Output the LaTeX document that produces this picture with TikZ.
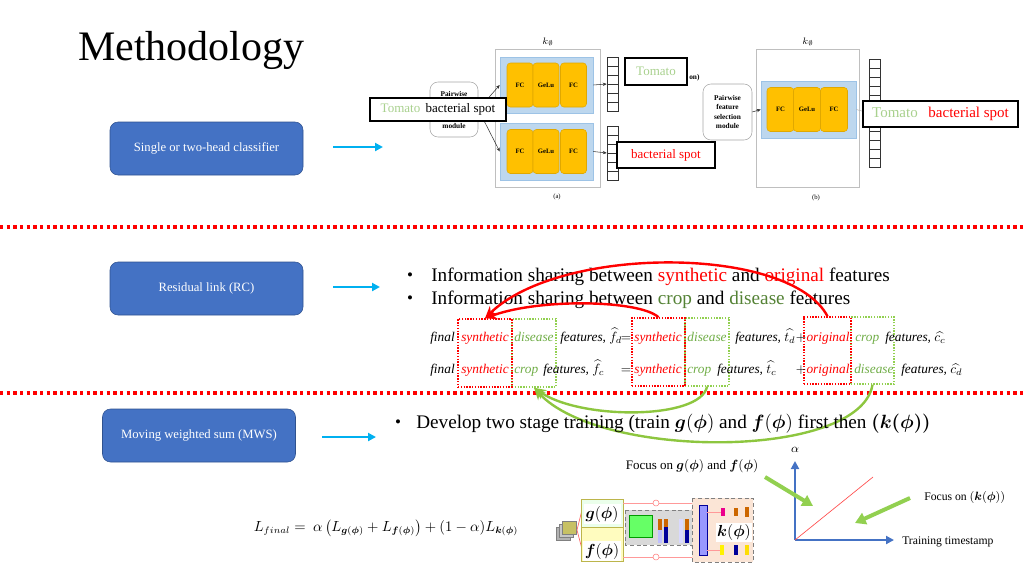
\documentclass[tikz,border=0pt]{standalone}
\usepackage{amsmath}
\usepackage{amssymb}
\usepackage{bm}
\usepackage{fontspec}
\setmainfont{Liberation Serif}
\usetikzlibrary{arrows.meta}

\definecolor{slideblue}{HTML}{4472C4}
\definecolor{slideblueline}{HTML}{2F528F}
\definecolor{arrowcyan}{HTML}{00B0F0}
\definecolor{tomatogreen}{HTML}{A9D18E}
\definecolor{cropgreen}{HTML}{548235}
\definecolor{eqgreen}{HTML}{70AD47}
\definecolor{boxgreen}{HTML}{92D050}
\definecolor{curvegreen}{HTML}{8DC63F}
\definecolor{fcorange}{HTML}{FFC000}
\definecolor{fcborder}{HTML}{E0A800}
\definecolor{panelblue}{HTML}{BDD7EE}
\definecolor{panelline}{HTML}{9DC3E6}
\definecolor{peach}{HTML}{FBE5D6}

\begin{document}
\begin{tikzpicture}[x=0.75pt,y=0.75pt,yscale=-1,xscale=1,
  bluebox/.style={draw=slideblueline, fill=slideblue, rounded corners=6pt, text=white, font=\fontsize{9.5}{11}\selectfont, minimum width=144.75pt, minimum height=39.75pt},
  cyanarrow/.style={draw=arrowcyan, line width=2pt, -{Triangle[length=6pt,width=6pt]}},
  sepline/.style={draw=red, line width=3pt, dash pattern=on 2.5pt off 2.5pt},
  fcbox/.style={draw=fcborder, fill=fcorange, rounded corners=2.5pt, minimum width=19.5pt, minimum height=33pt, inner sep=0pt, font=\fontsize{5}{6}\selectfont\bfseries},
  panel/.style={draw=panelline, fill=panelblue, inner sep=0pt},
  module/.style={draw=gray!70, fill=white, rounded corners=6pt, align=center, inner sep=0pt, font=\fontsize{5.5}{7}\selectfont\bfseries},
  tagbox/.style={draw=black, line width=1.5pt, fill=white, inner sep=0pt},
  vec/.style={draw=black!80, line width=0.4pt, minimum width=8.25pt, inner sep=0pt},
  thin arrow/.style={draw=black!80, line width=0.4pt, -{Stealth[length=3pt,width=2.5pt]}},
  redbox/.style={draw=red, densely dotted, line width=1.1pt, inner sep=0pt},
  greenbox/.style={draw=boxgreen, densely dotted, line width=1.1pt, inner sep=0pt},
  redcurve/.style={draw=red, line width=1.8pt, -{Stealth[length=9pt,width=8pt]}},
  greencurve/.style={draw=curvegreen, line width=1.8pt, -{Stealth[length=9pt,width=8pt]}},
  eqtext/.style={font=\fontsize{10}{12}\selectfont\itshape, inner sep=0pt},
  bullettext/.style={font=\fontsize{14.4}{17}\selectfont, inner sep=0pt, anchor=west},
  smalltext/.style={font=\fontsize{8.75}{10}\selectfont, inner sep=0pt},
  axis/.style={draw=slideblue, line width=2.2pt, -{Triangle[length=6pt,width=6pt]}},
  focusarrow/.style={draw=boxgreen, line width=3pt, -{Triangle[length=8pt,width=9pt]}}
]
\useasboundingbox (0,0) rectangle (1024,576);

% Title
\draw (78,60) node [anchor=base west][inner sep=0pt] (title) {\fontsize{31.5}{36}\selectfont Methodology};

% Left boxes
\node [bluebox] (clsbox) at (206.5,148.5) {Single or two-head classifier};
\node [bluebox] (rcbox) at (206.5,288.5) {Residual link (RC)};
\node [bluebox] (mwsbox) at (199,435.5) {Moving weighted sum (MWS)};

\coordinate (a1s) at (333,147);
\coordinate (a1e) at (383,147);
\coordinate (a2s) at (333,287);
\coordinate (a2e) at (380,287);
\coordinate (a3s) at (322,437);
\coordinate (a3e) at (376,437);
\draw [cyanarrow] (a1s) -- (a1e);
\draw [cyanarrow] (a2s) -- (a2e);
\draw [cyanarrow] (a3s) -- (a3e);

% Separators
\draw [sepline] (0,227) -- (1024,227);
\draw [sepline] (0,393) -- (1024,393);

% Figure (a)
\draw [draw=gray!50] (495,49) rectangle (600,187);
\draw (548,42) node [inner sep=0pt] (ka) {\fontsize{7}{8}\selectfont $k_{\emptyset}$};
\node [panel, minimum width=69.75pt, minimum height=42pt] (pana1) at (546.5,85) {};
\node [panel, minimum width=69.75pt, minimum height=42.75pt] (pana2) at (546.5,151.5) {};
\node [fcbox] (fca1) at (520,85) {FC};
\node [fcbox] (gla1) at (546,85) {GeLu};
\node [fcbox] (fcb1) at (573.5,85) {FC};
\node [fcbox] (fca2) at (520,151.5) {FC};
\node [fcbox] (gla2) at (546,151.5) {GeLu};
\node [fcbox] (fcb2) at (573.5,151.5) {FC};
\node [module, minimum width=36pt, minimum height=41.25pt] (pwa) at (454,109.5) {Pairwise\\[17pt]module};
\draw [thin arrow] (pwa.east) -- (pana1.west);
\draw [thin arrow] (pwa.east) -- (pana2.west);
\node [vec, minimum height=40.5pt] (veca1) at (612.5,84) {};
\node [vec, minimum height=40.5pt] (veca2) at (612.5,153) {};
\foreach \k in {1,...,5} {
  \draw [black!80, line width=0.4pt] (607,57+9*\k) -- (618,57+9*\k);
  \draw [black!80, line width=0.4pt] (607,126+9*\k) -- (618,126+9*\k);
}
\draw [thin arrow] (pana1.east) -- (veca1.west);
\draw [thin arrow] (pana2.east) -- (veca2.west);
\draw (557,197) node [inner sep=0pt] (capa) {\fontsize{5}{6}\selectfont (a)};
\draw (689,78) node [anchor=west][inner sep=0pt] (clsa) {\fontsize{5.5}{7}\selectfont\bfseries on)};

% Figure (b)
\draw [draw=gray!50] (756,49) rectangle (859,187);
\draw (808,42) node [inner sep=0pt] (kb) {\fontsize{7}{8}\selectfont $k_{\emptyset}$};
\node [panel, minimum width=71.25pt, minimum height=42.75pt] (panb) at (808.5,109.5) {};
\node [fcbox, minimum width=20.25pt] (fcab) at (780.5,109.5) {FC};
\node [fcbox, minimum width=20.25pt] (glb) at (807,109.5) {GeLu};
\node [fcbox, minimum width=20.25pt] (fcbb) at (834,109.5) {FC};
\node [module, minimum width=36.75pt, minimum height=42pt] (pwb) at (727.5,112) {Pairwise\\feature\\selection\\module};
\draw [thin arrow] (pwb.east) -- (panb.west);
\node [vec, minimum height=81pt] (vecb) at (875,113) {};
\foreach \k in {1,...,11}
  \draw [black!80, line width=0.4pt] (869,59+9*\k) -- (881,59+9*\k);
\draw [draw=gray!60, line width=0.4pt] (panb.east) -- (vecb.west);
\draw (816,198) node [inner sep=0pt] (capb) {\fontsize{5}{6}\selectfont (b)};

% Label boxes
\node [tagbox, minimum width=46.5pt, minimum height=20.25pt] (tagtop) at (656,71.5) {\fontsize{9.75}{11}\selectfont\textcolor{tomatogreen}{Tomato}};
\node [tagbox, minimum width=102pt, minimum height=17.25pt] (tagleft) at (438,109.5) {\fontsize{9.75}{11}\selectfont\textcolor{tomatogreen}{Tomato}\hspace{4pt}bacterial spot};
\node [tagbox, minimum width=73.5pt, minimum height=19.5pt] (tagbot) at (666,155) {\fontsize{9.75}{11}\selectfont\textcolor{red}{bacterial spot}};
\node [tagbox, minimum width=116.25pt, minimum height=19.5pt] (tagb) at (940.5,114) {\fontsize{11.25}{13}\selectfont\textcolor{tomatogreen}{Tomato}\hspace{8pt}\textcolor{red}{bacterial spot}};

% Residual link bullets
\draw (410,277) node [inner sep=0pt] (b1) {\fontsize{12.75}{15}\selectfont\textbullet};
\draw (431,277) node [bullettext] (t1) {Information sharing between \textcolor{red}{synthetic} and \textcolor{red}{original} features};
\draw (410,300) node [inner sep=0pt] (b2) {\fontsize{12.75}{15}\selectfont\textbullet};
\draw (431,300) node [bullettext] (t2) {Information sharing between \textcolor{cropgreen}{crop} and \textcolor{cropgreen}{disease} features};

% Dotted boxes
\node [greenbox, minimum width=33pt, minimum height=51pt] (gr1) at (534,353) {};
\node [greenbox, minimum width=33pt, minimum height=51pt] (gr2) at (707,352) {};
\node [greenbox, minimum width=32.25pt, minimum height=50.25pt] (gr3) at (872.5,350.5) {};
\node [redbox, minimum width=40.5pt, minimum height=51pt] (rd1) at (485,353) {};
\node [redbox, minimum width=39.75pt, minimum height=51pt] (rd2) at (658.5,352) {};
\node [redbox, minimum width=35.25pt, minimum height=50.25pt] (rd3) at (827.5,350.5) {};

% Equation rows
\node [eqtext, anchor=base west] (r1a) at (430,341) {final};
\node [eqtext, anchor=base, text=red] (r1b) at (485,341) {synthetic};
\node [eqtext, anchor=base, text=eqgreen] (r1c) at (534,341) {disease};
\node [eqtext, anchor=base west] (r1d) at (560,341) {features, $\widehat{f}_d$};
\node [eqtext, anchor=base] (r1e) at (626,341) {\upshape$=$};
\node [eqtext, anchor=base, text=red] (r1f) at (658,341) {synthetic};
\node [eqtext, anchor=base, text=eqgreen] (r1g) at (707,341) {disease};
\node [eqtext, anchor=base west] (r1h) at (735,341) {features, $\widehat{t_d}$};
\node [eqtext, anchor=base] (r1i) at (801,341) {\upshape$+$};
\node [eqtext, anchor=base, text=red] (r1j) at (828,341) {original};
\node [eqtext, anchor=base west, text=eqgreen] (r1k) at (855,341) {crop};
\node [eqtext, anchor=base west] (r1l) at (885,341) {features, $\widehat{c_c}$};

\node [eqtext, anchor=base west] (r2a) at (430,373) {final};
\node [eqtext, anchor=base, text=red] (r2b) at (485,373) {synthetic};
\node [eqtext, anchor=base west, text=eqgreen] (r2c) at (514,373) {crop};
\node [eqtext, anchor=base west] (r2d) at (543,373) {features, $\widehat{f}_c$};
\node [eqtext, anchor=base] (r2e) at (626,373) {\upshape$=$};
\node [eqtext, anchor=base, text=red] (r2f) at (658,373) {synthetic};
\node [eqtext, anchor=base west, text=eqgreen] (r2g) at (687,373) {crop};
\node [eqtext, anchor=base west] (r2h) at (717,373) {features, $\widehat{t_c}$};
\node [eqtext, anchor=base] (r2i) at (801,373) {\upshape$+$};
\node [eqtext, anchor=base, text=red] (r2j) at (828,373) {original};
\node [eqtext, anchor=base west, text=eqgreen] (r2k) at (854,373) {disease};
\node [eqtext, anchor=base west] (r2l) at (901,373) {features, $\widehat{c_d}$};

% Curved links
\draw [redcurve] (rd3.north) .. controls (790,245) and (560,245) .. (rd1.north);
\draw [redcurve] (rd2.north) .. controls (640,300) and (540,298) .. (rd1.north);
\draw [greencurve] (gr2.south) .. controls (700,420) and (580,420) .. (gr1.south);
\draw [greencurve] (gr3.south) .. controls (860,460) and (600,460) .. (gr1.south);

% Two stage training
\draw (398,424) node [inner sep=0pt] (b3) {\fontsize{12.75}{15}\selectfont\textbullet};
\draw (416,424) node [bullettext] (t3) {Develop two stage training (train $\bm{g}(\bm{\phi})$ and $\bm{f}(\bm{\phi})$ first then $\bm{(k(\phi))}$};

% Graph
\draw (692,466) node [smalltext, font=\fontsize{9.75}{11}\selectfont] (focusgf) {Focus on $\bm{g}(\bm{\phi})$ and $\bm{f}(\bm{\phi})$};
\coordinate (origin) at (795,540);
\coordinate (ytop) at (795,461);
\coordinate (xend) at (894,540);
\coordinate (diag) at (873,477);
\draw [axis] (origin) -- (ytop);
\draw [axis] (origin) -- (xend);
\draw [draw=red!70, line width=0.5pt] (origin) -- (diag);
\draw (795,450) node [inner sep=0pt] (alpha) {\fontsize{9}{10}\selectfont $\alpha$};
\draw (902,542) node [smalltext, anchor=west] (tts) {Training timestamp};
\draw (924,497) node [smalltext, anchor=west] (focusk) {Focus on $(\bm{k}(\bm{\phi}))$};
\coordinate (fa1s) at (765,477);
\coordinate (fa1e) at (813,506);
\coordinate (fa2s) at (910,498);
\coordinate (fa2e) at (855,523);
\draw [focusarrow] (fa1s) -- (fa1e);
\draw [focusarrow] (fa2s) -- (fa2e);

% Loss
\draw (386,528) node [inner sep=0pt] (loss) {\fontsize{10.5}{12}\selectfont $L_{final} =\ \alpha\left(L_{\bm{g}(\bm{\phi})} + L_{\bm{f}(\bm{\phi})}\right) + (1-\alpha)L_{\bm{k}(\bm{\phi})}$};

% Thumbnail of the network
\draw [fill=gray!60, draw=gray] (556,527) rectangle (570,540);
\draw [fill=gray!45, draw=gray] (559,524) rectangle (573,537);
\draw [fill=olive!50, draw=gray] (562,521) rectangle (576,534);
\draw [draw=red!60, line width=0.5pt] (583,506) -- (577,530) -- (583,553);
\draw [draw=olive!60, fill=green!8] (581,499) rectangle (623,527);
\draw [draw=olive!60, fill=yellow!25] (581,527) rectangle (623,561);
\draw [draw=red!40, line width=0.6pt] (623,503) -- (692,503);
\draw [draw=red!40, line width=0.6pt] (623,557) -- (692,557);
\draw [draw=red!50, fill=white, line width=0.4pt] (656,503) circle (3);
\draw [draw=red!50, fill=white, line width=0.4pt] (656,557) circle (3);
\draw [draw=gray, densely dashed, fill=gray!30, line width=0.4pt] (625,510) rectangle (692,545);
\draw [draw=green!60!black, fill=green!60, line width=0.4pt] (629,515) rectangle (652,537);
\draw [fill=orange!80!black, draw=none] (658,519) rectangle (662,530);
\draw [fill=blue!25, draw=none] (658,530) rectangle (662,543);
\draw [fill=orange!80!black, draw=none] (664,519) rectangle (668,527);
\draw [fill=blue!60!black, draw=none] (664,527) rectangle (668,543);
\draw [fill=blue!15, draw=none] (679,519) rectangle (683,543);
\draw [fill=orange!80!black, draw=none] (685,519) rectangle (689,530);
\draw [fill=blue!60!black, draw=none] (685,530) rectangle (689,543);
\draw [draw=red!60, line width=0.5pt] (692,509) -- (698,528) -- (692,547);
\draw [draw=gray, densely dashed, fill=peach, line width=0.4pt] (692,498) rectangle (753,562);
\draw [fill=blue!40, draw=blue!60!black, line width=0.3pt] (699,505) rectangle (707,555);
\draw [fill=magenta, draw=none] (721,508) rectangle (725,516);
\draw [fill=orange!80!black, draw=none] (734,508) rectangle (738,516);
\draw [fill=orange!80!black, draw=none] (745,507) rectangle (749,517);
\draw [fill=yellow, draw=none] (720,545) rectangle (724,555);
\draw [fill=blue!60!black, draw=none] (734,545) rectangle (738,555);
\draw [fill=yellow!80!orange, draw=none] (745,545) rectangle (749,555);
\draw [draw=red!40, line width=0.4pt] (707,512) -- (721,512);
\draw [draw=red!40, line width=0.4pt] (707,550) -- (720,550);
\node [fill=white, inner sep=1pt, minimum width=27.75pt, minimum height=15pt] (gbox) at (602,514) {\fontsize{12.75}{14}\selectfont $\bm{g}(\bm{\phi})$};
\node [fill=white, inner sep=1pt, minimum width=27.75pt, minimum height=15pt] (fbox) at (602,551) {\fontsize{12.75}{14}\selectfont $\bm{f}(\bm{\phi})$};
\node [fill=white, inner sep=1pt, minimum width=25.5pt, minimum height=14.25pt] (kbox) at (734,532) {\fontsize{12.75}{14}\selectfont $\bm{k}(\bm{\phi})$};

\end{tikzpicture}
\end{document}
